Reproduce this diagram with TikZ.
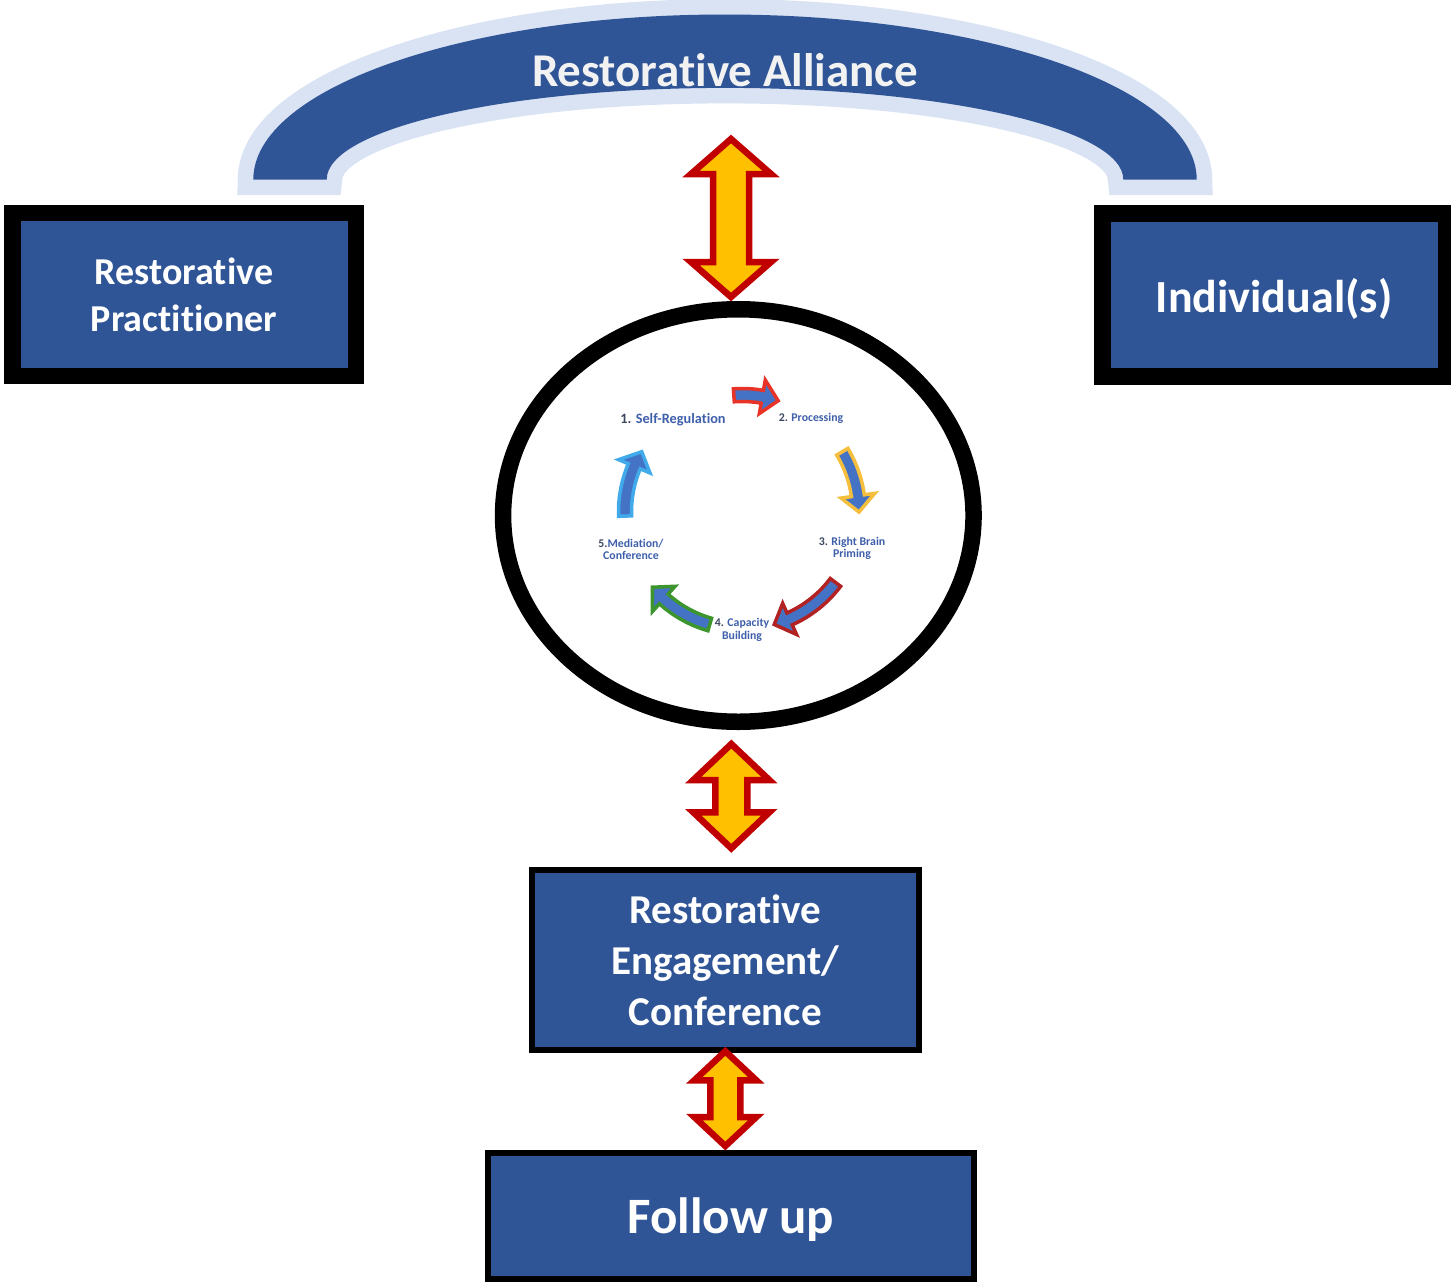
\documentclass[tikz,border=0pt]{standalone}
\usepackage{fontspec}
\setmainfont{Carlito}[Ligatures=NoCommon]
\usepackage{tikz}
\usetikzlibrary{calc,positioning,shapes.geometric}

\definecolor{boxblue}{RGB}{47,85,151}
\definecolor{archedge}{RGB}{218,227,243}
\definecolor{archtext}{RGB}{242,242,242}
\definecolor{arrowgold}{RGB}{255,192,0}
\definecolor{arrowred}{RGB}{192,0,0}
\definecolor{stepblue}{RGB}{68,114,196}
\definecolor{stepnum}{RGB}{60,72,96}
\definecolor{steptext}{RGB}{62,95,170}
\definecolor{cycred}{RGB}{232,52,40}
\definecolor{cycyellow}{RGB}{245,190,60}
\definecolor{cycdarkred}{RGB}{178,34,34}
\definecolor{cycgreen}{RGB}{60,150,45}
\definecolor{cyclight}{RGB}{65,170,235}

\tikzset{
    heavybox/.style={
        rectangle,
        draw=black, line width=16.5pt,
        fill=boxblue,
        text=white,
        align=center,
        inner sep=0pt,
        minimum width=343.5pt,
        minimum height=163pt
    },
    thinbox/.style={
        rectangle,
        draw=black, line width=6pt,
        fill=boxblue,
        text=white,
        align=center,
        inner sep=0pt
    },
    ring/.style={
        ellipse,
        draw=black, line width=16.5pt,
        fill=white,
        inner sep=0pt,
        minimum width=470.5pt,
        minimum height=412.5pt
    },
    blockarrow/.style={draw=arrowred, fill=arrowgold, line width=6.5pt, line join=miter},
    steparrow/.style={draw=#1, fill=stepblue, line width=3.5pt, line join=miter},
    steplabel/.style={
        font=\fontsize{11.8}{12.5}\selectfont\bfseries,
        text=steptext,
        align=center,
        inner sep=0pt
    }
}

% two headed block arrow: #1 top end, #2 bottom end,
% #3 half head width, #4 head length, #5 half shaft width
\newcommand{\twoway}[5]{%
    \draw[blockarrow] let \p1=#1, \p2=#2 in
        (\x1,\y1) -- (\x1+#3,\y1-#4) -- (\x1+#5,\y1-#4) -- (\x1+#5,\y2+#4)
        -- (\x1+#3,\y2+#4) -- (\x1,\y2) -- (\x1-#3,\y2+#4) -- (\x1-#5,\y2+#4)
        -- (\x1-#5,\y1-#4) -- (\x1-#3,\y1-#4) -- cycle;}

% bent arrow round the cycle, from angle #1 to angle #2
\newcommand{\cyclearrow}[3]{%
    \draw[steparrow=#3] (#1:123.5) arc[start angle=#1, end angle=#2-8, radius=123.5]
        -- ({#2-8}:134) -- (#2:117) -- ({#2-8}:100) -- ({#2-8}:110.5)
        arc[start angle=#2-8, end angle=#1, radius=110.5] -- cycle;}

\begin{document}
\begin{tikzpicture}[x=1pt, y=-1pt]
\useasboundingbox (0,0) rectangle (1451,1282);

% the alliance arch
\fill[boxblue, preaction={draw=archedge, line width=31pt, line join=miter}]
    (253.3,179.5) arc[start angle=180, end angle=360, x radius=471.7, y radius=165]
    -- (1123.3,179.5) arc[start angle=360, end angle=180, x radius=398.3, y radius=91.6] -- cycle;
\node[text=archtext, font=\fontsize{47}{56}\selectfont\bfseries, anchor=base] (alliance) at (725,86) {Restorative Alliance};
\coordinate (bond) at (731,139);

\node[heavybox, font=\fontsize{38}{47}\selectfont\bfseries] (prac) at (184,294.7) {Restorative\\Practitioner};
\node[heavybox, text depth=0pt, font=\fontsize{46}{55}\selectfont\bfseries] (indiv) at (1274,295) {Individual(s)};
\node[ring] (cycle) at (738.3,515.5) {};
\node[thinbox, minimum width=386.7pt, minimum height=180pt, font=\fontsize{41}{51}\selectfont\bfseries] (engage) at (725.3,960.3) {Restorative\\Engagement/\\Conference};
\node[thinbox, text depth=0pt, minimum width=485.7pt, minimum height=126pt, font=\fontsize{51}{60}\selectfont\bfseries] (follow) at (730.8,1216) {Follow up};

\twoway{(bond)}{($(cycle.north)+(0,-4)$)}{40pt}{35pt}{18pt}
\twoway{($(cycle.south)+(-7,14)$)}{($(engage.north)+(0,-19)$)}{38pt}{36pt}{16pt}
\twoway{($(engage.south)+(0,-2)$)}{($(follow.north)+(0,-4)$)}{31pt}{29pt}{15pt}

% the five steps
\node[steplabel, font=\fontsize{14.3}{15}\selectfont\bfseries, anchor=base] (self) at (673,423) {\textcolor{stepnum}{1.} Self-Regulation};
\node[steplabel, anchor=base] (proc) at (811,421.7) {\textcolor{stepnum}{2.} Processing};
\node[steplabel] (brain) at (852,548.5) {\textcolor{stepnum}{3.} Right Brain\\Priming};
\node[steplabel] (capac) at (742,630) {\textcolor{stepnum}{4.} Capacity\\Building};
\node[steplabel] (media) at (631,549.5) {\textcolor{stepnum}{5.}Mediation/\\Conference};

\begin{scope}[shift={(742,512)}]
    \cyclearrow{-94}{-72}{cycred}
    \cyclearrow{-31}{0}{cycyellow}
    \cyclearrow{37}{74}{cycdarkred}
    \cyclearrow{106}{140}{cycgreen}
    \cyclearrow{178}{211}{cyclight}
\end{scope}
\end{tikzpicture}
\end{document}
